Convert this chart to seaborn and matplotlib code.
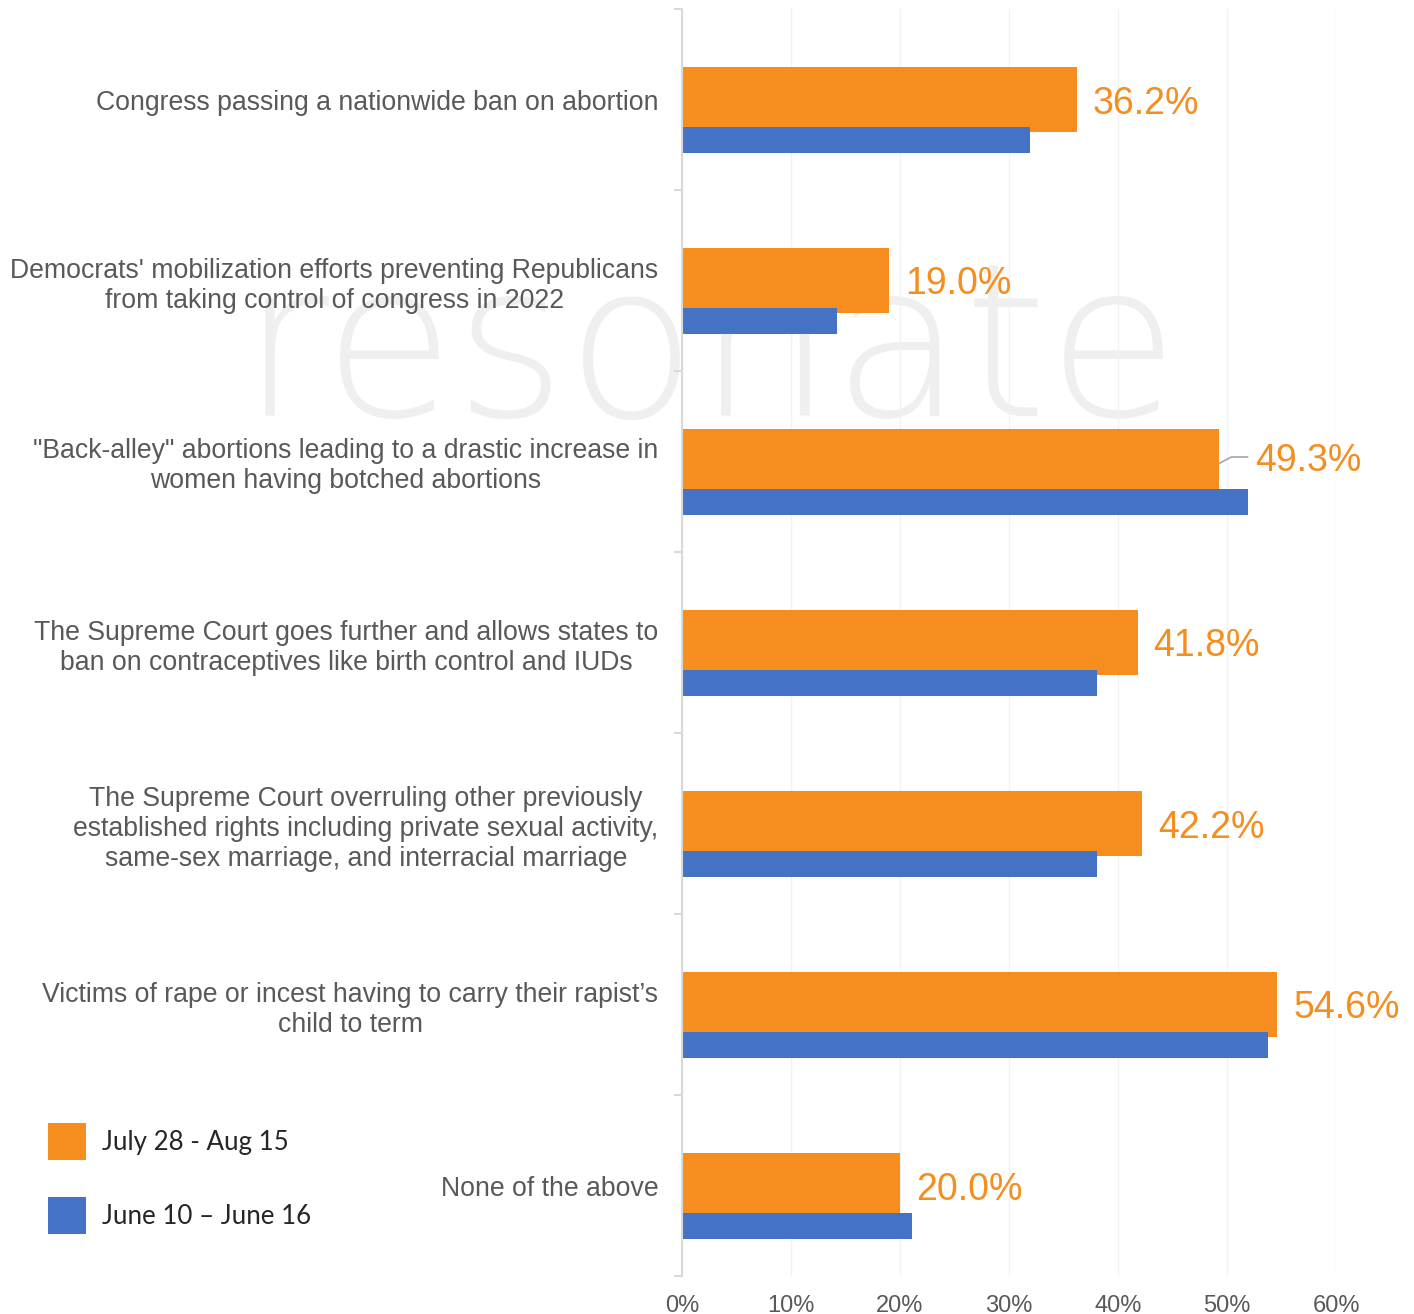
import numpy as np
import pandas as pd
import matplotlib
matplotlib.use("Agg")
import matplotlib.pyplot as plt
from matplotlib.patches import Patch
from matplotlib.transforms import ScaledTranslation
import seaborn as sns

categories = [
    "Congress passing a nationwide ban on abortion",
    "Democrats' mobilization efforts preventing Republicans\nfrom taking control of congress in 2022",
    "\"Back-alley\" abortions leading to a drastic increase in\nwomen having botched abortions",
    "The Supreme Court goes further and allows states to\nban on contraceptives like birth control and IUDs",
    "The Supreme Court overruling other previously\nestablished rights including private sexual activity,\nsame-sex marriage, and interracial marriage",
    "Victims of rape or incest having to carry their rapist\u2019s\nchild to term",
    "None of the above",
]
july = [36.2, 19.0, 49.3, 41.8, 42.2, 54.6, 20.0]
june = [31.9, 14.2, 51.9, 38.1, 38.1, 53.8, 21.1]
series_names = ["July 28 - Aug 15", "June 10 \u2013 June 16"]
xticks = [0, 10, 20, 30, 40, 50, 60]

ORANGE = "#F68D1F"
BLUE = "#4472C4"
GRAY = "#595959"

sns.set_theme(style="white")
plt.rcParams["font.family"] = ["Liberation Sans", "DejaVu Sans"]

df = pd.DataFrame({"label": categories, "july": july, "june": june})

fig = plt.figure(figsize=(14.14, 13.14), dpi=100)
ax = fig.add_axes([682 / 1414, 1 - 1276 / 1314, (1336 - 682) / 1414, (1276 - 9) / 1314])
ax.patch.set_alpha(0)

# watermark behind the bars
ax.text(0.502, 1 - 416 / 1314, "resonate", transform=fig.transFigure,
        ha="center", va="baseline", fontsize=154, color="#EFEFEF",
        family=["DejaVu Sans"], fontweight="light",
        zorder=0.2, clip_on=False)

sns.barplot(data=df, x="july", y="label", color=ORANGE, saturation=1,
            width=0.354, errorbar=None, orient="h", ax=ax, zorder=2,
            linewidth=0, edgecolor="none")
n = len(categories)
sns.barplot(data=df, x="june", y="label", color=BLUE, saturation=1,
            width=0.144, errorbar=None, orient="h", ax=ax, zorder=3,
            linewidth=0, edgecolor="none")
for p in ax.patches[n:]:
    p.set_y(p.get_y() + 0.225)

ax.set_xlim(0, 60)
ax.set_ylim(n - 0.5, -0.5)
ax.set_xlabel("")
ax.set_ylabel("")

ax.set_xticks(xticks)
ax.set_xticklabels([f"{t}%" for t in xticks])
ax.tick_params(axis="x", length=0, pad=14, labelsize=17, labelcolor=GRAY)
ax.set_yticks(range(n))
ax.set_yticklabels(categories)
for lab in ax.get_yticklabels():
    lab.set_multialignment("center")
ax.tick_params(axis="y", which="major", length=0, pad=17, labelsize=19.2, labelcolor=GRAY)
ax.set_yticks(np.arange(-0.5, n, 1), minor=True)
ax.tick_params(axis="y", which="minor", left=True, length=6, width=1.5, color="#D9D9D9")

ax.grid(axis="x", color="#F2F2F2", linewidth=1)
ax.set_axisbelow(True)
for side in ["top", "right", "bottom"]:
    ax.spines[side].set_visible(False)
ax.spines["left"].set_color("#D9D9D9")
ax.spines["left"].set_linewidth(1.5)
ax.spines["left"].set_zorder(4)

# value labels for the latest wave
for i, (a, b) in enumerate(zip(july, june)):
    if b - a > 2:
        shift = ScaledTranslation(7 / 100, 0, fig.dpi_scale_trans)
        ax.text(b, i - 0.025, f"{a:.1f}%", transform=ax.transData + shift,
                ha="left", va="center_baseline", fontsize=27, color=ORANGE)
        ax.plot([a, a + 1.1, b], [i + 0.01, i - 0.025, i - 0.025],
                color="#A6A6A6", linewidth=1.2, zorder=5, clip_on=False)
    else:
        shift = ScaledTranslation(16 / 100, 0, fig.dpi_scale_trans)
        ax.text(a, i, f"{a:.1f}%", transform=ax.transData + shift,
                ha="left", va="center_baseline", fontsize=27, color=ORANGE)

handles = [Patch(facecolor=ORANGE, edgecolor="none"), Patch(facecolor=BLUE, edgecolor="none")]
fig.legend(handles, series_names, loc="upper left",
           bbox_to_anchor=(48 / 1414, 1 - 1123 / 1314), frameon=False,
           borderpad=0, borderaxespad=0, handlelength=1.47, handleheight=1.85,
           handletextpad=0.62, labelspacing=1.4,
           prop={"family": ["Lato", "DejaVu Sans"], "size": 18.6})

fig.savefig("out.png", dpi=100, facecolor="white")
